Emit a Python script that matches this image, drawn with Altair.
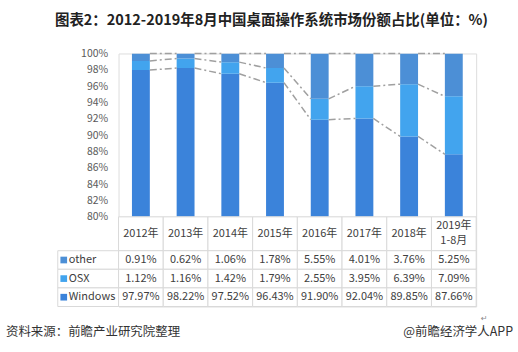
import altair as alt
import pandas as pd

years = ["2012年", "2013年", "2014年", "2015年", "2016年", "2017年", "2018年", "2019年\n1-8月"]
other = [0.91, 0.62, 1.06, 1.78, 5.55, 4.01, 3.76, 5.25]
osx = [1.12, 1.16, 1.42, 1.79, 2.55, 3.95, 6.39, 7.09]
windows = [97.97, 98.22, 97.52, 96.43, 91.90, 92.04, 89.85, 87.66]
series = ["other", "OSX", "Windows"]
colors = ["#4c8fd6", "#42a4ee", "#3b83da"]
y_ticks = [80, 82, 84, 86, 88, 90, 92, 94, 96, 98, 100]

FONT = "Noto Sans CJK SC"
GRID = "#d9d9d9"
TXT = "#404040"

# stacked segments
rows = []
for i, y in enumerate(years):
    w, o, t = windows[i], osx[i], other[i]
    rows.append({"year": y, "series": "Windows", "start": 0.0, "end": w})
    rows.append({"year": y, "series": "OSX", "start": w, "end": w + o})
    rows.append({"year": y, "series": "other", "start": w + o, "end": w + o + t})
bars_df = pd.DataFrame(rows)

# series lines between adjacent bars
seg = []
for i in range(len(years) - 1):
    a, b = i, i + 1
    levels = [
        (windows[a], windows[b]),
        (windows[a] + osx[a], windows[b] + osx[b]),
        (windows[a] + osx[a] + other[a], windows[b] + osx[b] + other[b]),
    ]
    for v1, v2 in levels:
        seg.append({"year": years[a], "next": years[b], "v1": v1, "v2": v2})
seg_df = pd.DataFrame(seg)

W = 359
color_scale = alt.Scale(domain=series, range=colors)
x_bar = alt.Scale(domain=years, paddingInner=0.6, paddingOuter=0.3)
y_scale = alt.Scale(domain=[80, 100], nice=False)
y_axis = alt.Axis(values=y_ticks, labelExpr="datum.value + '%'", grid=False,
                  domain=False, ticks=False, labelPadding=11, labelOverlap=False,
                  labelFontSize=10.5, labelColor="#595959", labelFont=FONT,
                  title=None)

bars = alt.Chart(bars_df).mark_bar(clip=True).encode(
    x=alt.X("year:N", scale=x_bar, axis=None, sort=years),
    y=alt.Y("start:Q", scale=y_scale, axis=y_axis),
    y2="end:Q",
    color=alt.Color("series:N", scale=color_scale, legend=None),
)

lines = alt.Chart(seg_df).mark_rule(color="#a0a0a0", strokeWidth=1.5,
                                    strokeDash=[7, 3, 2, 3]).encode(
    x=alt.X("year:N", scale=x_bar, sort=years, bandPosition=1),
    x2=alt.X2("next", bandPosition=0),
    y=alt.Y("v1:Q", scale=y_scale, axis=y_axis),
    y2="v2:Q",
)

top = alt.layer(bars, lines).properties(width=W, height=164)

# header row
hdr_df = pd.DataFrame({"year": years, "n": [len(y.split("\n")) for y in years]})
x_tab = alt.Scale(domain=years, paddingInner=0, paddingOuter=0)
hdr_cells = alt.Chart(hdr_df).mark_rect(fill="white", stroke=GRID, strokeWidth=1).encode(
    x=alt.X("year:N", scale=x_tab, sort=years, axis=None),
)
hdr_text1 = alt.Chart(hdr_df).transform_filter("datum.n == 1").mark_text(
    fontSize=11, font=FONT, color=TXT, baseline="middle").encode(
    x=alt.X("year:N", scale=x_tab, sort=years, axis=None),
    y=alt.value(17),
    text="year:N",
)
hdr_text2 = alt.Chart(hdr_df).transform_filter("datum.n == 2").mark_text(
    fontSize=11, font=FONT, color=TXT, baseline="middle", lineBreak="\n",
    lineHeight=15, dy=-7.5).encode(
    x=alt.X("year:N", scale=x_tab, sort=years, axis=None),
    y=alt.value(17),
    text="year:N",
)
header = alt.layer(hdr_cells, hdr_text1, hdr_text2).properties(width=W, height=34)

# table rows
tab = []
for i, y in enumerate(years):
    tab.append({"year": y, "series": "other", "val": f"{other[i]:.2f}%"})
    tab.append({"year": y, "series": "OSX", "val": f"{osx[i]:.2f}%"})
    tab.append({"year": y, "series": "Windows", "val": f"{windows[i]:.2f}%"})
tab_df = pd.DataFrame(tab)
y_tab = alt.Scale(domain=series, paddingInner=0, paddingOuter=0)

cells = alt.Chart(tab_df).mark_rect(fill="white", stroke=GRID, strokeWidth=1).encode(
    x=alt.X("year:N", scale=x_tab, sort=years, axis=None),
    y=alt.Y("series:N", scale=y_tab, sort=series, axis=None),
)
vals = alt.Chart(tab_df).mark_text(fontSize=11, font=FONT, color=TXT, baseline="middle").encode(
    x=alt.X("year:N", scale=x_tab, sort=years, axis=None),
    y=alt.Y("series:N", scale=y_tab, sort=series, axis=None),
    text="val:N",
)
lab_df = pd.DataFrame({"series": series})
lab_cells = alt.Chart(lab_df).mark_rect(fill="white", stroke=GRID, strokeWidth=1).encode(
    x=alt.value(-61), x2=alt.value(0),
    y=alt.Y("series:N", scale=y_tab, sort=series, axis=None),
)
lab_sq = alt.Chart(lab_df).mark_square(size=45, opacity=1).encode(
    x=alt.value(-55),
    y=alt.Y("series:N", scale=y_tab, sort=series, axis=None),
    color=alt.Color("series:N", scale=color_scale, legend=None),
)
lab_txt = alt.Chart(lab_df).mark_text(fontSize=11, font=FONT, color=TXT, align="left",
                                      baseline="middle").encode(
    x=alt.value(-50),
    y=alt.Y("series:N", scale=y_tab, sort=series, axis=None),
    text="series:N",
)
src_df = pd.DataFrame({"t": ["资料来源：前瞻产业研究院整理"]})
src = alt.Chart(src_df).mark_text(fontSize=12.5, font=FONT, color="#333333", align="left",
                                  baseline="middle").encode(
    x=alt.value(-113), y=alt.value(82), text="t:N")
app_df = pd.DataFrame({"t": ["@前瞻经济学人APP"]})
app = alt.Chart(app_df).mark_text(fontSize=12.5, font=FONT, color="#333333", align="right",
                                  baseline="middle").encode(
    x=alt.value(396), y=alt.value(82), text="t:N")
ret_df = pd.DataFrame({"t": ["↵"]})
ret = alt.Chart(ret_df).mark_text(fontSize=8, font="DejaVu Sans", color="#888888",
                                  baseline="middle").encode(
    x=alt.value(367), y=alt.value(69), text="t:N")

table = alt.layer(cells, vals, lab_cells, lab_sq, lab_txt, src, app, ret).properties(
    width=W, height=56)

chart = alt.vconcat(top, header, table, spacing=0, bounds="flush").resolve_scale(
    x="independent", y="independent", color="shared"
).properties(
    title=alt.TitleParams(
        "图表2：2012-2019年8月中国桌面操作系统市场份额占比(单位：%)",
        fontSize=14.5, font=FONT, fontWeight="bold", color="#222222",
        anchor="middle", offset=20, dx=12,
    ),
    padding={"left": 5, "top": 12, "right": 4, "bottom": 10},
).configure_view(stroke=None).configure_axis(labelOverlap=False).configure(background="white")

chart.save("out.html", embed_options={"renderer": "svg", "actions": False})
